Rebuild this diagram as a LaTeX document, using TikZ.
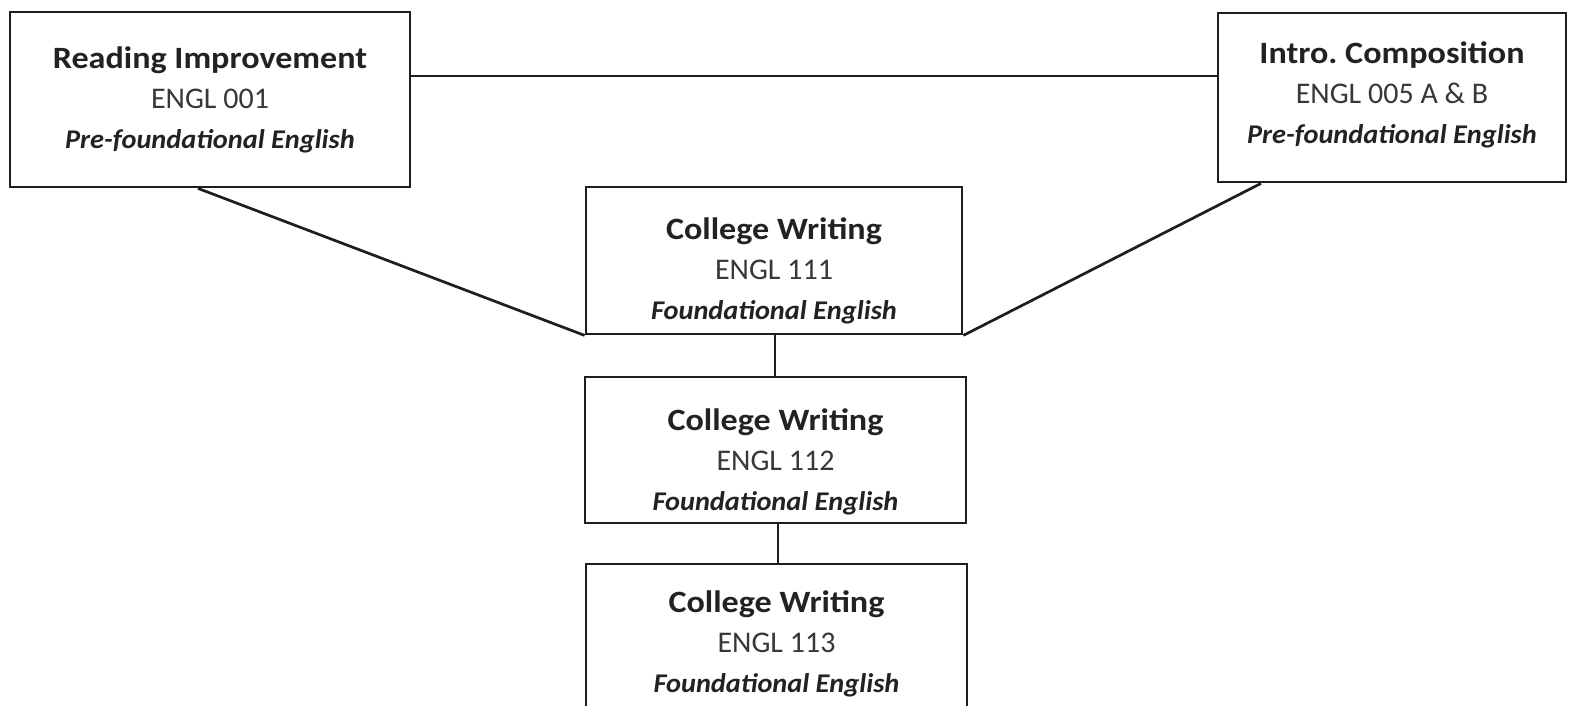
\documentclass[tikz,border=0pt]{standalone}
\usepackage{fontspec}
\setmainfont{Carlito}
\frenchspacing
\definecolor{ink}{HTML}{1E1E1E}
\definecolor{txt}{HTML}{222222}
\definecolor{txtb}{HTML}{383838}
\newcommand{\ttl}[1]{{\fontsize{31}{40}\selectfont\bfseries\color{txt}\scalebox{1.1}[1]{#1}}}
\newcommand{\cde}[1]{{\fontsize{30}{40}\selectfont\color{txtb}#1}}
\newcommand{\lvl}[1]{{\fontsize{27}{40}\selectfont\bfseries\itshape\color{txt}\scalebox{1.05}[1]{#1}}}
\begin{document}
\begin{tikzpicture}[x=1pt,y=-1pt,
  box/.style={draw=ink,line width=2.8pt,fill=white,inner sep=0pt},
  label text/.style={align=center,inner sep=0pt,font=\fontsize{29}{40}\selectfont},
  link/.style={draw=ink,line width=2.7pt}]
\useasboundingbox (0,0) rectangle (1572,705);
\fill[white] (0,0) rectangle (1572,705);
\coordinate (h) at (0,76);
\coordinate (l1) at (198,0);
\coordinate (l2) at (1261,0);
\coordinate (v1) at (775,0);
\coordinate (v2) at (778,0);
\node[box,minimum width=400pt,minimum height=175pt] (b1) at (210,99.5) {};
\node[box,minimum width=348pt,minimum height=169pt] (b2) at (1392,97.5) {};
\node[box,minimum width=376pt,minimum height=147pt] (b3) at (774,260.5) {};
\node[box,minimum width=381pt,minimum height=146pt] (b4) at (775.5,450) {};
\node[box,minimum width=381pt,minimum height=146pt] (b5) at (776.5,637) {};
\node[label text] (t1) at ([yshift=0pt]b1.center)
  {\ttl{Reading Improvement}\\\cde{ENGL 001}\\\lvl{Pre-foundational English}};
\node[label text] (t2) at ([yshift=3pt]b2.center)
  {\ttl{Intro. Composition}\\\cde{ENGL 005 A \& B}\\\lvl{Pre-foundational English}};
\node[label text] (t3) at ([yshift=-10pt]b3.center)
  {\ttl{College Writing}\\\cde{ENGL 111}\\\lvl{Foundational English}};
\node[label text] (t4) at ([yshift=-11.5pt]b4.center)
  {\ttl{College Writing}\\\cde{ENGL 112}\\\lvl{Foundational English}};
\node[label text] (t5) at ([yshift=-7pt]b5.center)
  {\ttl{College Writing}\\\cde{ENGL 113}\\\lvl{Foundational English}};
\draw[link] (b1.east |- h) -- (b2.west |- h);
\draw[link] (b1.south -| l1) -- (b3.south west);
\draw[link] (b2.south -| l2) -- (b3.south east);
\draw[link] (b3.south -| v1) -- (b4.north -| v1);
\draw[link] (b4.south -| v2) -- (b5.north -| v2);
\end{tikzpicture}
\end{document}
